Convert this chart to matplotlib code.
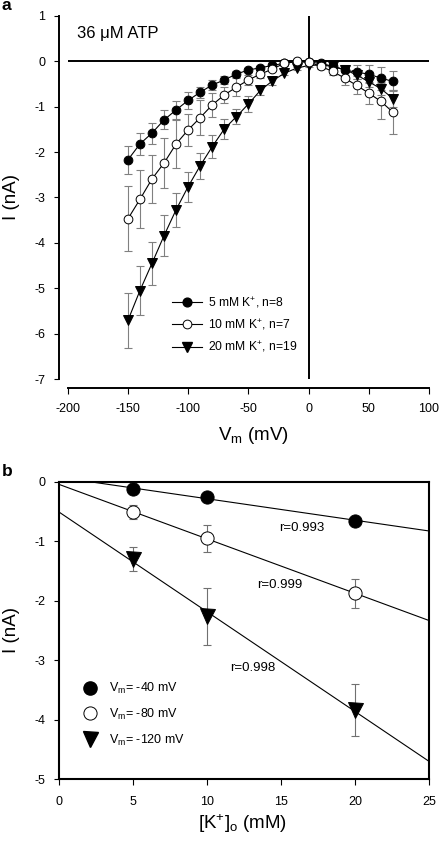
import numpy as np
import matplotlib
matplotlib.use('Agg')
import matplotlib.pyplot as plt
from matplotlib.lines import Line2D

plt.rcParams['font.family'] = ['Liberation Sans', 'DejaVu Sans']
plt.rcParams['mathtext.fontset'] = 'custom'
plt.rcParams['mathtext.rm'] = 'Liberation Sans'
plt.rcParams['mathtext.it'] = 'Liberation Sans:italic'
plt.rcParams['mathtext.bf'] = 'Liberation Sans:bold'
plt.rcParams['mathtext.default'] = 'regular'

# ---------------- data: panel a ----------------
vm = [-150, -140, -130, -120, -110, -100, -90, -80, -70, -60, -50, -40,
      -30, -20, -10, 0, 10, 20, 30, 40, 50, 60, 70]
i_5mM = [-2.17, -1.82, -1.58, -1.29, -1.07, -0.86, -0.68, -0.52, -0.41, -0.28,
         -0.19, -0.14, -0.09, -0.04, -0.01, -0.02, -0.04, -0.11, -0.19, -0.24,
         -0.28, -0.37, -0.44]
err_5mM = [0.31, 0.25, 0.23, 0.21, 0.19, 0.18, 0.12, 0.11, 0.09, 0.07, 0.05,
           0.04, 0.03, 0.03, 0.02, 0.02, 0.03, 0.05, 0.10, 0.15, 0.20, 0.25, 0.22]
i_10mM = [-3.47, -3.04, -2.59, -2.24, -1.82, -1.51, -1.24, -0.96, -0.74, -0.57,
          -0.41, -0.28, -0.17, -0.04, 0.01, -0.01, -0.11, -0.22, -0.37, -0.53,
          -0.70, -0.88, -1.12]
err_10mM = [0.72, 0.64, 0.53, 0.55, 0.53, 0.35, 0.38, 0.26, 0.18, 0.20, 0.11,
            0.08, 0.05, 0.03, 0.02, 0.02, 0.05, 0.08, 0.15, 0.20, 0.24, 0.40, 0.49]
i_20mM = [-5.71, -5.05, -4.45, -3.84, -3.27, -2.76, -2.30, -1.88, -1.49, -1.22,
          -0.94, -0.64, -0.43, -0.26, -0.15, -0.09, -0.08, -0.11, -0.18, -0.30,
          -0.45, -0.60, -0.82]
err_20mM = [0.60, 0.55, 0.48, 0.45, 0.37, 0.33, 0.29, 0.26, 0.22, 0.17, 0.17,
            0.10, 0.08, 0.05, 0.03, 0.03, 0.03, 0.04, 0.05, 0.08, 0.12, 0.15, 0.18]
labels_a = ['5 mM K$^{+}$, n=8', '10 mM K$^{+}$, n=7', '20 mM K$^{+}$, n=19']
xticks_a = [-200, -150, -100, -50, 0, 50, 100]
yticks_a = [1, 0, -1, -2, -3, -4, -5, -6, -7]

# ---------------- data: panel b ----------------
k_out = [5, 10, 20]
i_m40 = [-0.13, -0.25, -0.66]
err_m40 = [0.02, 0.03, 0.04]
i_m80 = [-0.51, -0.95, -1.88]
err_m80 = [0.12, 0.23, 0.25]
i_m120 = [-1.30, -2.26, -3.84]
err_m120 = [0.21, 0.48, 0.43]
labels_b = ['V$_{m}$= -40 mV', 'V$_{m}$= -80 mV', 'V$_{m}$= -120 mV']
r_labels = ['r=0.993', 'r=0.999', 'r=0.998']
r_pos_k = [14.9, 13.4, 11.55]
r_pos_i = [-0.78, -1.74, -3.13]
xticks_b = [0, 5, 10, 15, 20, 25]
yticks_b = [0, -1, -2, -3, -4, -5]

W, H = 440, 846
fig = plt.figure(figsize=(W / 100, H / 100), dpi=100)


def box(x0, y0, x1, y1):
    return [x0 / W, 1 - y1 / H, (x1 - x0) / W, (y1 - y0) / H]


def P(v):  # pixels -> points
    return v * 72 / 100


# ---------------- panel a ----------------
axa = fig.add_axes(box(67.7, 16, 429, 379))
axa.set_xlim(-200, 100)
axa.set_ylim(-7, 1)
for s in ('top', 'right'):
    axa.spines[s].set_visible(False)
axa.spines['left'].set_position(('outward', P(8.7)))
axa.spines['bottom'].set_position(('outward', P(9)))
for s in ('left', 'bottom'):
    axa.spines[s].set_linewidth(1.4)
axa.set_xticks(xticks_a)
axa.set_yticks(yticks_a)
axa.set_yticklabels([str(t) for t in yticks_a])
axa.set_xticklabels([str(t) for t in xticks_a])
axa.tick_params(axis='both', direction='out', length=P(5.5), width=0.8,
                labelsize=9, colors='k')
axa.tick_params(axis='y', pad=P(8))
axa.tick_params(axis='x', pad=P(9))
axa.axhline(0, color='k', lw=1.4, zorder=1)
axa.axvline(0, color='k', lw=1.4, zorder=1)

ecol = '#808080'
series_a = [
    (i_20mM, err_20mM, 'v', 'k', 3),
    (i_5mM, err_5mM, 'o', 'k', 4),
    (i_10mM, err_10mM, 'o', 'white', 5),
]
for ys, es, mk, fc, z in series_a:
    axa.errorbar(vm, ys, yerr=es, fmt='none', ecolor=ecol, elinewidth=0.8,
                 capsize=2.6, capthick=0.8, zorder=2)
    axa.plot(vm, ys, '-', color='k', lw=0.8, marker=mk, ms=6.3 if mk == 'o' else 6.8,
             mfc=fc, mec='k', mew=0.7, zorder=z)

handles_a = [
    Line2D([], [], color='k', lw=0.8, marker='o', ms=6.3, mfc='k', mec='k'),
    Line2D([], [], color='k', lw=0.8, marker='o', ms=6.3, mfc='white', mec='k', mew=0.7),
    Line2D([], [], color='k', lw=0.8, marker='v', ms=6.8, mfc='k', mec='k'),
]
axa.legend(handles_a, labels_a, loc='upper left',
           bbox_to_anchor=(172 / W, 1 - 295 / H), bbox_transform=fig.transFigure,
           frameon=False, fontsize=8.7, borderpad=0, borderaxespad=0,
           handlelength=2.5, handletextpad=0.45, labelspacing=0.62)
axa.text(-191.9, 0.52, '36 \u03bcM ATP', fontsize=12, ha='left', va='baseline')

fig.text(11 / W, 1 - 197.5 / H, 'I (nA)', rotation=90, fontsize=13.5,
         ha='center', va='center')
fig.text(253 / W, 1 - 440 / H, 'V$_{m}$ (mV)', fontsize=13.5,
         ha='center', va='baseline')
fig.text(2 / W, 1 - 6 / H, 'a', fontsize=12.5, fontweight='bold',
         ha='left', va='center')

# ---------------- panel b ----------------
axb = fig.add_axes(box(59, 481.7, 429, 779))
axb.set_xlim(0, 25)
axb.set_ylim(-5, 0)
for s in axb.spines.values():
    s.set_linewidth(1.5)
axb.set_xticks(xticks_b)
axb.set_yticks(yticks_b)
axb.set_xticklabels([str(t) for t in xticks_b])
axb.set_yticklabels([str(t) for t in yticks_b])
axb.tick_params(axis='both', direction='out', length=P(5.5), width=0.8,
                labelsize=9, colors='k')
axb.tick_params(axis='y', pad=P(8))
axb.tick_params(axis='x', pad=P(11))

kfit = np.array([0, 25])
series_b = [
    (i_m40, err_m40, 'o', 'k', 9.5),
    (i_m80, err_m80, 'o', 'white', 9.5),
    (i_m120, err_m120, 'v', 'k', 10.8),
]
for ys, es, mk, fc, ms in series_b:
    slope, icpt = np.polyfit(k_out, ys, 1)
    axb.plot(kfit, icpt + slope * kfit, '-', color='k', lw=0.8, zorder=2)
    axb.errorbar(k_out, ys, yerr=es, fmt='none', ecolor='#707070', elinewidth=0.8,
                 capsize=3.2, capthick=0.8, zorder=3)
    axb.plot(k_out, ys, linestyle='none', marker=mk, ms=ms, mfc=fc, mec='k',
             mew=0.7, zorder=4)

for lab, kx, iy in zip(r_labels, r_pos_k, r_pos_i):
    axb.text(kx, iy, lab, fontsize=9.5, ha='left', va='center')

handles_b = [
    Line2D([], [], linestyle='none', marker='o', ms=9.5, mfc='k', mec='k'),
    Line2D([], [], linestyle='none', marker='o', ms=9.5, mfc='white', mec='k', mew=0.7),
    Line2D([], [], linestyle='none', marker='v', ms=10.8, mfc='k', mec='k'),
]
axb.legend(handles_b, labels_b, loc='upper left',
           bbox_to_anchor=(80 / W, 1 - 681 / H), bbox_transform=fig.transFigure,
           frameon=False, fontsize=9, borderpad=0, borderaxespad=0,
           handlelength=1.6, handletextpad=0.7, labelspacing=0.85)

fig.text(12 / W, 1 - 630 / H, 'I (nA)', rotation=90, fontsize=13.5,
         ha='center', va='center')
fig.text(243 / W, 1 - 829 / H, '[K$^{+}$]$_{o}$ (mM)', fontsize=13.5,
         ha='center', va='baseline')
fig.text(2 / W, 1 - 471 / H, 'b', fontsize=12.5, fontweight='bold',
         ha='left', va='center')

fig.savefig('out.png', dpi=100)
